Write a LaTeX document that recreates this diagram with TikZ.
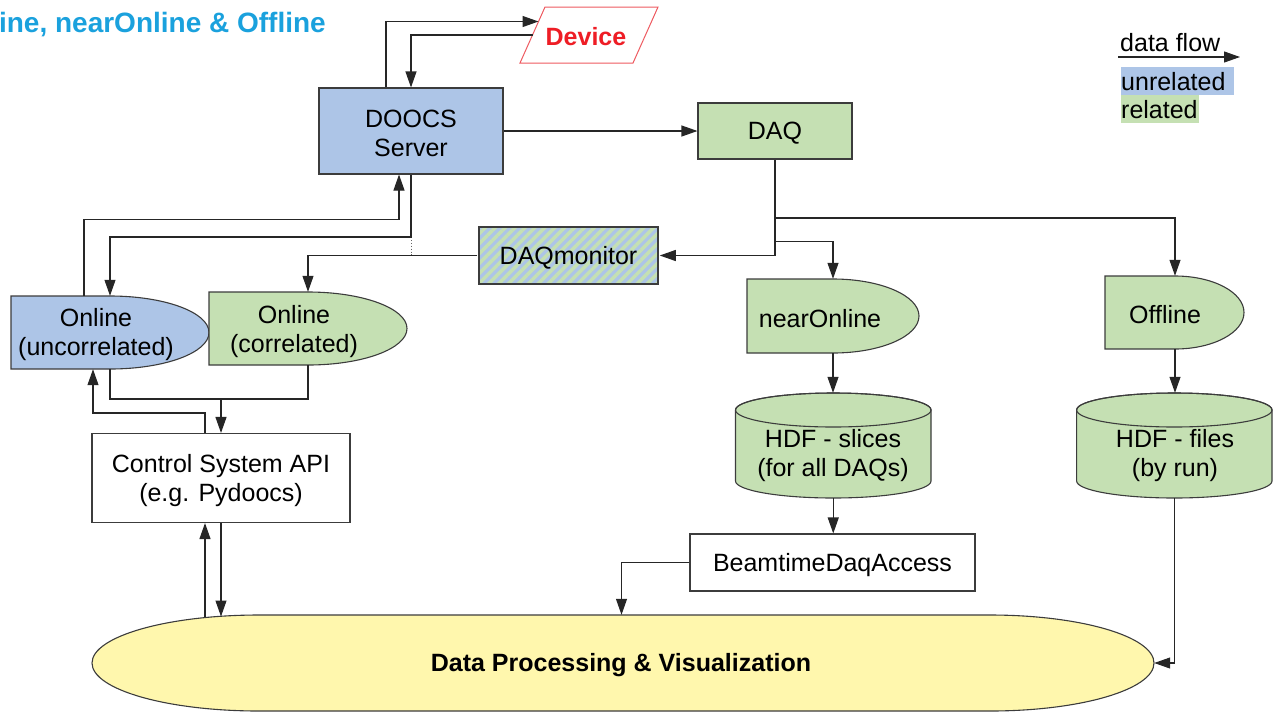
\documentclass[tikz,border=0pt]{standalone}
\usepackage{fontspec}
\setmainfont{Liberation Sans}
\usetikzlibrary{arrows.meta,patterns.meta}
\definecolor{cblue}{HTML}{ADC5E7}
\definecolor{cgreen}{HTML}{C5E0B3}
\definecolor{cyellow}{HTML}{FFF7AD}
\definecolor{ctitle}{HTML}{1AA1DD}
\definecolor{cred}{HTML}{EE1D25}
\definecolor{credline}{HTML}{EE5A60}
\definecolor{cedge}{HTML}{3C3C3C}
\begin{document}
\begin{tikzpicture}[x=1pt,y=-1pt,
  txt/.style={font=\fontsize{25}{29}\selectfont, align=center, inner sep=0pt, text=black},
  btxt/.style={font=\fontsize{25}{29}\selectfont\bfseries, align=center, inner sep=0pt},
  area/.style={draw=none, inner sep=0pt, rectangle},
  box/.style={draw=cedge, line width=1.1pt, rectangle, inner sep=0pt},
  boxtext/.style={label={[txt, yshift=-2.5pt]center:{#1}}},
  shp/.style={draw=cedge, line width=1.1pt},
  wire/.style={draw=black!85, line width=1.1pt},
  arr/.style={wire, -{Triangle[length=16pt,width=11pt]}},
]
\useasboundingbox (0,0) rectangle (1274,713);

% title
\node[inner sep=0pt, font=\fontsize{28}{31}\selectfont\bfseries, text=ctitle, anchor=east] (title) at (326,24.5) {ine, nearOnline \& Offline};

% device
\draw[draw=credline, line width=1pt, fill=white] (545,7) -- (658,7) -- (633,63) -- (520,63) -- cycle;
\node[btxt, text=cred] (device) at (586,37) {Device};
\coordinate (devin) at (538.5,21.5);
\coordinate (devout) at (532.5,35);

% boxes
\node[box, fill=cblue, minimum width=184pt, minimum height=86pt, boxtext={DOOCS\\Server}] (doocs) at (411,131) {};
\node[box, fill=cgreen, minimum width=154pt, minimum height=56pt, boxtext={DAQ}] (daq) at (775,131) {};
\node[box, minimum width=179pt, minimum height=57pt, preaction={fill=cblue},
      pattern={Lines[angle=45,distance=7pt,line width=3.5pt]}, pattern color=cgreen, boxtext={DAQmonitor}] (daqmon) at (568.5,255.5) {};

% Online (uncorrelated)
\draw[shp, fill=cblue] (11,296) -- (110,296) arc[start angle=90, end angle=-90, x radius=99pt, y radius=36.5pt] -- (11,369) -- cycle;
\node[area, minimum width=198pt, minimum height=73pt] (onu) at (110,332.5) {};
\node[txt] (onut) at (96,334.5) {Online\\(uncorrelated)};

% Online (correlated)
\draw[shp, fill=cgreen] (209,292) -- (308,292) arc[start angle=90, end angle=-90, x radius=99pt, y radius=36.5pt] -- (209,365) -- cycle;
\node[area, minimum width=198pt, minimum height=73pt] (onc) at (308,328.5) {};
\node[txt] (onct) at (294,331.5) {Online\\(correlated)};

% nearOnline
\draw[shp, fill=cgreen] (747,279) -- (833,279) arc[start angle=90, end angle=-90, x radius=86pt, y radius=37pt] -- (747,353) -- cycle;
\node[area, minimum width=172pt, minimum height=74pt] (near) at (833,316) {};
\node[txt] (neart) at (820,318.5) {nearOnline};

% Offline
\draw[shp, fill=cgreen] (1105,276) -- (1175,276) arc[start angle=90, end angle=-90, x radius=69pt, y radius=36.5pt] -- (1105,349) -- cycle;
\node[area, minimum width=140pt, minimum height=73pt] (off) at (1175,312.5) {};
\node[txt] (offt) at (1165,315) {Offline};

% cylinders
\draw[shp, fill=cgreen] (735.5,410) -- (735.5,481) arc[start angle=180, end angle=360, x radius=97.75pt, y radius=17pt] -- (931,410) arc[start angle=0, end angle=180, x radius=97.75pt, y radius=17pt] -- cycle;
\draw[shp] (833.25,410) ellipse[x radius=97.75pt, y radius=17pt];
\node[area, minimum width=195.5pt, minimum height=105pt] (slices) at (833.25,445.5) {};
\node[txt] (slicest) at (833,456) {HDF - slices\\(for all DAQs)};

\draw[shp, fill=cgreen] (1076.6,410) -- (1076.6,481) arc[start angle=180, end angle=360, x radius=97.7pt, y radius=17pt] -- (1272,410) arc[start angle=0, end angle=180, x radius=97.7pt, y radius=17pt] -- cycle;
\draw[shp] (1174.3,410) ellipse[x radius=97.7pt, y radius=17pt];
\node[area, minimum width=195.4pt, minimum height=105pt] (files) at (1174.3,445.5) {};
\node[txt] (filest) at (1175,456) {HDF - files\\(by run)};

% control / BDA
\node[box, fill=white, minimum width=258pt, minimum height=89pt, boxtext={Control System API\\(e.g. Pydoocs)}] (ctrl) at (221,478) {};
\node[box, fill=white, minimum width=285pt, minimum height=57pt, boxtext={BeamtimeDaqAccess}] (bda) at (832.5,562.5) {};

% Data processing
\draw[shp, fill=cyellow] (259,615) -- (990,615) arc[start angle=90, end angle=-90, x radius=164pt, y radius=48pt] -- (259,711) arc[start angle=270, end angle=90, x radius=167pt, y radius=48pt] -- cycle;
\node[area, minimum width=1062pt, minimum height=96pt] (dpv) at (623,663) {};
\node[btxt] (dpvt) at (621,665) {Data Processing \& Visualization};

% legend
\node[txt, anchor=west] (legflow) at (1120,43) {data flow};
\coordinate (lega) at (1118,57);
\coordinate (legb) at (1240,57);
\draw[arr] (lega) -- (legb);
\node[txt, anchor=north west, fill=cblue, text width=113pt, align=left, inner xsep=0pt, minimum height=28pt] (unrel) at (1121,67) {unrelated};
\node[txt, anchor=north west, fill=cgreen, text width=78pt, align=left, inner xsep=0pt, minimum height=28pt] (rel) at (1121,95) {related};

% connectors
\draw[arr] ([xshift=-25pt]doocs.north) |- (devin);
\draw[arr] (devout) -| (doocs.north);
\draw[arr] (doocs.east) -- (daq.west);
\draw[arr] (daq.south) |- (daqmon.east);
\coordinate (j1) at (775,218);
\coordinate (j2) at (775,241.5);
\draw[arr] (j1) -| (off.north);
\draw[arr] (j2) -| (near.north);
\draw[arr] (daqmon.west) -| (onc.north);
\coordinate (j3) at (411,237);
\draw[draw=black!60, dotted, line width=0.9pt] (j3) -- (j3 |- daqmon.west);
\draw[arr] (doocs.south) -- (j3) -| (onu.north);
\coordinate (j5) at (84,219.5);
\draw[arr] (j5 |- onu.north) -- (j5) -| ([xshift=-12pt]doocs.south);
\coordinate (j6) at (308,399);
\draw[wire] (onu.south) |- (j6) -- (onc.south);
\draw[arr] (ctrl.north |- j6) -- (ctrl.north);
\coordinate (j7) at (93,413);
\draw[arr] ([xshift=-16pt]ctrl.north) |- (j7) -- (j7 |- onu.south);
\coordinate (y1) at (205,616.5);
\draw[arr] (y1) -- (y1 |- ctrl.south);
\draw[arr] (ctrl.south) -- (ctrl.south |- y1);
\draw[arr] (near.south) -- (near.south |- slices.north);
\draw[arr] (off.south) -- (off.south |- files.north);
\draw[arr] (slices.south) -- (slices.south |- bda.north);
\draw[arr] (bda.west) -| ([xshift=-1.5pt]dpv.north);
\draw[arr] (files.south) |- (dpv.east);
\end{tikzpicture}
\end{document}
